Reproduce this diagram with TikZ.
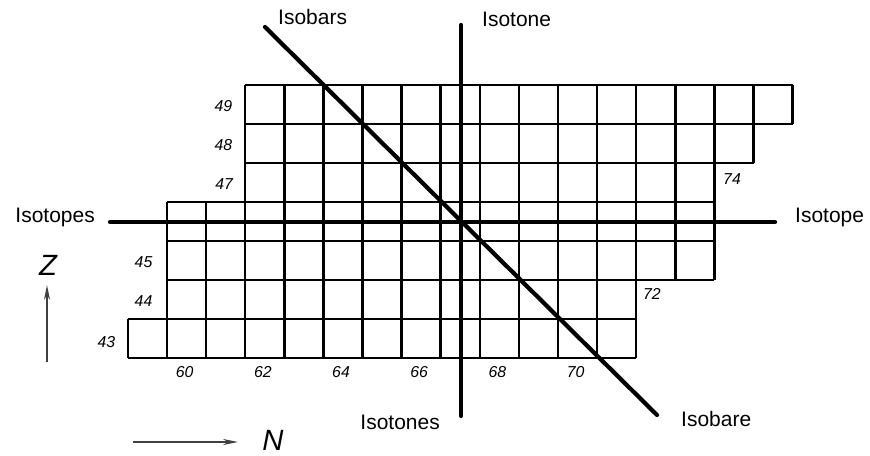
\documentclass[tikz,border=0pt]{standalone}
\usepackage{fontspec}
\setmainfont{Liberation Sans}
\usepackage{tikz}
\usetikzlibrary{arrows.meta}

\tikzset{
	cell/.style={line width=2.1pt},
	heavy/.style={line width=3.6pt,line cap=round},
	lbl/.style={inner sep=0pt,font=\fontsize{17.9}{20}\selectfont},
	num/.style={inner sep=0pt,font=\fontsize{13.5}{15}\selectfont\itshape},
	axis/.style={line width=1.3pt,black!75,->},
	axlbl/.style={inner sep=0pt,font=\fontsize{25}{28}\selectfont\itshape}
}

\begin{document}
\begin{tikzpicture}[x=0.03cm,y=-0.03cm,>={Stealth[length=4.5mm,width=1.8mm]}]
			\useasboundingbox (0,0) rectangle (870,456);
			
			\begin{scope}[shift={(167,358)},x=1.173cm,y=1.17cm]
				\foreach \z/\a/\b in {49/2/16,48/2/15,47/2/14,46/0/14,45/0/14,44/0/12,43/-1/12}
					\draw[cell,step=1] (\a,\z-43) grid (\b,\z-42);
				
				\node[num] (z49) at (1.44,6.46) {49};
				\node[num] (z48) at (1.44,5.46) {48};
				\node[num] (z47) at (1.46,4.45) {47};
				\node[num] (z45) at (-0.6,2.45) {45};
				\node[num] (z44) at (-0.6,1.45) {44};
				\node[num] (z43) at (-1.55,0.42) {43};
				\foreach \n in {60,62,...,70}
					\node[num] (n\n) at ({\n-60+0.45},-0.37) {\n};
				\node[num] (n72) at (12.4,1.64) {72};
				\node[num] (n74) at (14.45,4.6) {74};
			\end{scope}
			
			\coordinate (isotopeL) at (110,222);
			\coordinate (isotopeR) at (775,222);
			\coordinate (isotoneT) at (461,25);
			\coordinate (isotoneB) at (461,416);
			\coordinate (isobarT) at (265,27);
			\coordinate (isobarB) at (657,415);
			
			\draw[heavy] (isotopeL)--(isotopeR);
			\draw[heavy] (isotoneT)--(isotoneB);
			\draw[heavy] (isobarT)--(isobarB);
			
			\node[lbl,anchor=base east] (isotopes) at (95,223) {Isotopes};
			\node[lbl,anchor=base west] (isotope) at (795,223) {Isotope};
			\node[lbl,anchor=base west] (isobars) at (278,25) {Isobars};
			\node[lbl,anchor=base west] (isotone) at (482,27) {Isotone};
			\node[lbl,anchor=base east] (isotones) at (440,429) {Isotones};
			\node[lbl,anchor=base west] (isobare) at (681,426) {Isobare};
			
			\coordinate (zfoot) at (47,362);
			\coordinate (ztip) at (47,285);
			\coordinate (nfoot) at (133,442);
			\coordinate (ntip) at (238,442);
			\draw[axis] (zfoot)--(ztip);
			\draw[axis] (nfoot)--(ntip);
			\node[axlbl] (zlbl) at (48,265) {Z};
			\node[axlbl] (nlbl) at (273,440) {N};
		\end{tikzpicture}
\end{document}
